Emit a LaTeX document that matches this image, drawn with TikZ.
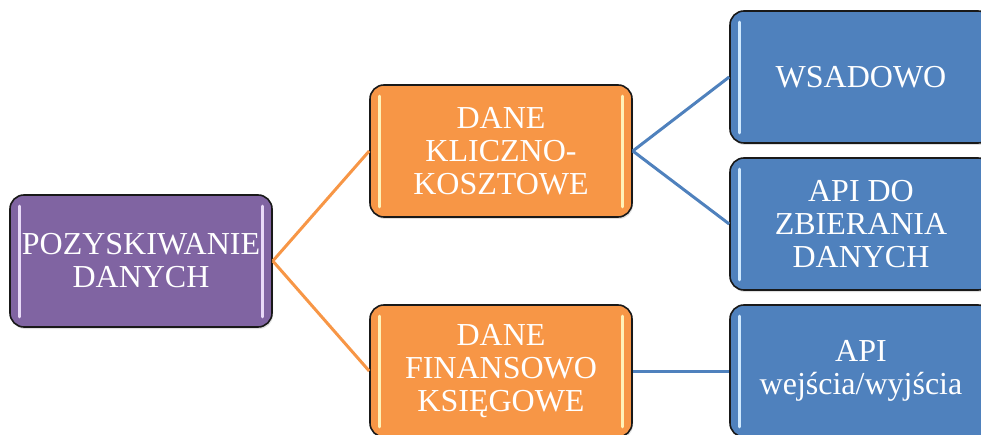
\documentclass[tikz,border=0pt]{standalone}
\usepackage{fontspec}
\setmainfont{Liberation Serif}
\usetikzlibrary{shadows}
\definecolor{purpfill}{HTML}{8064A2}
\definecolor{purpglint}{HTML}{E8DAF7}
\definecolor{orfill}{HTML}{F79646}
\definecolor{orglint}{HTML}{FFF2B8}
\definecolor{bluefill}{HTML}{4F81BD}
\definecolor{blueglint}{HTML}{CFE9FF}
\tikzset{
  box/.style={draw=black!90, line width=1.6pt, rounded corners=14pt,
    minimum width=262pt, minimum height=132pt, inner sep=0pt,
    text=white, align=center, font=\fontsize{32}{33}\selectfont,
    drop shadow={shadow xshift=1pt, shadow yshift=-2pt, opacity=0.25}},
  purplebox/.style={box, fill=purpfill},
  orangebox/.style={box, fill=orfill},
  bluebox/.style={box, fill=bluefill},
  glint/.style={line width=3.2pt, line cap=round},
  orlink/.style={draw=orfill, line width=3pt},
  bluelink/.style={draw=bluefill, line width=3pt}
}
% light vertical highlights just inside the left and right sides of a box
\newcommand{\boxglints}[2]{%
  \draw[glint, #2] ([xshift=10pt,yshift=-12pt]#1.north west) -- ([xshift=10pt,yshift=11pt]#1.south west);
  \draw[glint, #2] ([xshift=-10pt,yshift=-12pt]#1.north east) -- ([xshift=-10pt,yshift=11pt]#1.south east);
}
\begin{document}
\begin{tikzpicture}[x=1pt,y=-1pt]
  \useasboundingbox (0,0) rectangle (981,435);
  \clip (0,0) rectangle (981,435);

  \node[purplebox] (root) at (141,261) {POZYSKIWANIE\\DANYCH};
  \node[orangebox] (klik) at (501,151) {DANE\\KLICZNO-\\KOSZTOWE};
  \node[orangebox] (fin)  at (501,371) {DANE\\FINANSOWO\\KSIĘGOWE};
  \node[bluebox] (wsad) at (861,77)  {WSADOWO};
  \node[bluebox] (api)  at (861,224) {API DO\\ZBIERANIA\\DANYCH};
  \node[bluebox] (io)   at (861,371) {API\\wejścia/wyjścia};

  \boxglints{root}{purpglint}
  \boxglints{klik}{orglint}
  \boxglints{fin}{orglint}
  \boxglints{wsad}{blueglint}
  \boxglints{api}{blueglint}
  \boxglints{io}{blueglint}

  \draw[orlink] (root.east) -- (klik.west);
  \draw[orlink] (root.east) -- (fin.west);
  \draw[bluelink] (klik.east) -- (wsad.west);
  \draw[bluelink] (klik.east) -- (api.west);
  \draw[bluelink] (fin.east) -- (io.west);
\end{tikzpicture}
\end{document}
